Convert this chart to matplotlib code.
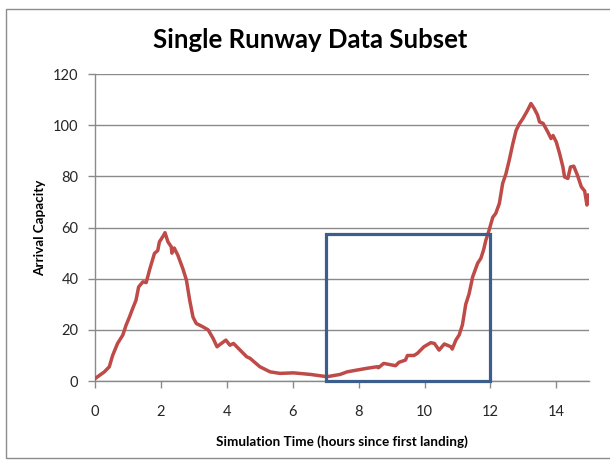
from matplotlib import pyplot as plt
from matplotlib.patches import Rectangle

# curve: time (h) and arrival capacity
time_h = [0.0, 0.28, 0.43, 0.53, 0.68, 0.84, 0.94, 1.04, 1.14, 1.24, 1.32, 1.45, 1.55,
          1.65, 1.80, 1.90, 1.95, 2.08, 2.12, 2.21, 2.31, 2.33, 2.40, 2.51, 2.66, 2.77,
          2.87, 2.97, 3.07, 3.27, 3.43, 3.58, 3.70, 3.83, 3.97, 4.09, 4.20, 4.60, 4.70,
          5.00, 5.31, 5.61, 6.02, 6.53, 7.04, 7.44, 7.65, 7.95, 8.26, 8.56, 8.60, 8.76,
          9.12, 9.22, 9.42, 9.48, 9.68, 9.78, 9.98, 10.19, 10.30, 10.44, 10.60, 10.80,
          10.84, 10.95, 11.05, 11.15, 11.25, 11.35, 11.46, 11.61, 11.71, 11.79, 11.86,
          11.96, 12.07, 12.16, 12.27, 12.37, 12.47, 12.57, 12.68, 12.78, 12.88, 12.98,
          13.13, 13.23, 13.33, 13.43, 13.49, 13.60, 13.74, 13.84, 13.90, 14.00, 14.10,
          14.20, 14.25, 14.35, 14.43, 14.53, 14.64, 14.76, 14.86, 14.93, 14.98]
capacity = [1.0, 3.6, 5.6, 10.0, 14.7, 18.0, 21.9, 25.0, 28.4, 31.6, 36.8, 38.8, 38.5,
            43.4, 49.9, 51.0, 54.4, 57.0, 58.0, 54.4, 52.5, 50.0, 52.0, 49.2, 44.0, 39.5,
            31.6, 25.0, 22.5, 21.2, 20.0, 16.7, 13.4, 14.7, 16.0, 14.0, 14.7, 9.5, 8.9,
            5.6, 3.6, 3.0, 3.2, 2.6, 1.7, 2.6, 3.6, 4.3, 5.0, 5.6, 5.2, 6.9,
            6.0, 7.3, 8.2, 10.0, 10.0, 10.8, 13.4, 15.0, 14.7, 12.1, 14.5, 13.4,
            12.5, 16.0, 18.0, 22.0, 30.0, 34.0, 40.7, 46.0, 48.0, 51.2, 55.0,
            59.0, 64.0, 65.5, 69.4, 77.2, 81.0, 86.3, 92.8, 98.0, 100.6, 102.5,
            105.9, 108.5, 106.5, 104.0, 101.3, 100.7, 97.4, 94.8, 96.0, 93.4, 88.9,
            83.7, 79.8, 79.2, 83.7, 84.0, 80.5, 75.9, 74.3, 68.8, 72.7]

# highlighted subset window
box_t = (7, 12)
box_cap = 57.5

x_ticks = list(range(0, 16, 2))
y_ticks = list(range(0, 121, 20))

plt.rcParams['font.family'] = ['Lato', 'DejaVu Sans']

fig = plt.figure(figsize=(6.1, 4.63), dpi=100)
fig.subplots_adjust(left=0.156, right=0.966, bottom=0.177, top=0.840)
ax = fig.add_subplot(111)

# outer chart frame
fig.patches.append(Rectangle((6 / 610, 5 / 463), 1.0, 449 / 463, transform=fig.transFigure,
                             fill=False, edgecolor='#8c8c8c', linewidth=1.0))

ax.set_xlim(0, 15)
ax.set_ylim(0, 120)
ax.set_xticks(x_ticks)
ax.set_yticks(y_ticks)

ax.grid(axis='y', color='#8a8a8a', linewidth=1.0)
ax.set_axisbelow(True)
for side in ['top', 'right']:
    ax.spines[side].set_visible(False)
for side in ['left', 'bottom']:
    ax.spines[side].set_color('#8a8a8a')
    ax.spines[side].set_linewidth(1.0)
ax.tick_params(axis='both', color='#8a8a8a', length=5, width=1.0,
               labelsize=10.5, labelcolor='#262626')
ax.tick_params(axis='x', pad=12)
ax.tick_params(axis='y', pad=7)

ax.plot(time_h, capacity, color='#be4b48', linewidth=2.5, solid_joinstyle='round', zorder=3)

ax.add_patch(Rectangle((box_t[0], 0), box_t[1] - box_t[0], box_cap, fill=False,
                       edgecolor='#3b5e8c', linewidth=2.3, zorder=4, clip_on=False))

fig.text(310 / 610, 1 - 40 / 463, 'Single Runway Data Subset', fontsize=18.5,
         fontweight='bold', ha='center', va='center')
ax.set_xlabel('Simulation Time (hours since first landing)', fontsize=9.7, fontweight='bold', labelpad=12)
ax.set_ylabel('Arrival Capacity', fontsize=9.7, fontweight='bold', labelpad=5)

fig.savefig('out.png', dpi=100)
